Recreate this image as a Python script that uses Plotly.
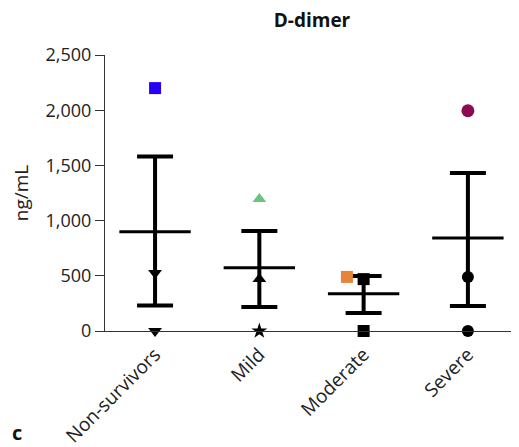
import plotly.graph_objects as go

categories = ["Non-survivors", "Mild", "Moderate", "Severe"]
means = [900, 573, 338, 843]
upper = [1580, 906, 498, 1432]
lower = [230, 217, 163, 226]

# individual points per group
pts_high = [2200, 1195, 490, 1995]     # coloured highlighted points
pts_mid = [525, 470, 470, 489]
pts_zero = [0, 0, 0, 0]

# styling
high_colors = ["#2a00f5", "#6cc47c", "#e8843a", "#8c0a52"]
high_symbols = ["square", "triangle-up", "square", "circle"]
high_sizes = [12, 12, 12, 13]
black_symbols = ["triangle-down", "triangle-up", "square", "circle"]
zero_symbols = ["triangle-down", "star", "square", "circle"]
high_offset = [0, 0, -0.16, 0]

xi = list(range(len(categories)))

# page body has an 8px default margin; figure is sized to compensate
W, H = 511, 439
L, R, T, B = 97, 0, 47, 116
pw, ph = W - L - R, H - T - B

fig = go.Figure()

fig.add_trace(go.Scatter(
    x=xi, y=means, mode="markers",
    marker=dict(symbol="line-ew", size=51, color="black",
                line=dict(width=3, color="black")),
    error_y=dict(type="data", symmetric=False,
                 array=[u - m for u, m in zip(upper, means)],
                 arrayminus=[m - l for m, l in zip(means, lower)],
                 color="black", thickness=4, width=18),
    cliponaxis=False, showlegend=False, hoverinfo="skip"))

fig.add_trace(go.Scatter(
    x=[i + o for i, o in zip(xi, high_offset)], y=pts_high, mode="markers",
    marker=dict(symbol=high_symbols, size=high_sizes, color=high_colors,
                opacity=1, line=dict(width=0)),
    opacity=1, cliponaxis=False, showlegend=False))

fig.add_trace(go.Scatter(
    x=xi, y=pts_mid, mode="markers",
    marker=dict(symbol=black_symbols, size=12, color="black", opacity=1),
    cliponaxis=False, showlegend=False))

fig.add_trace(go.Scatter(
    x=xi, y=pts_zero, mode="markers",
    marker=dict(symbol=zero_symbols, size=12, color="black", opacity=1),
    cliponaxis=False, showlegend=False))

fig.update_layout(
    width=W, height=H,
    margin=dict(l=L, r=R, t=T, b=B),
    paper_bgcolor="white", plot_bgcolor="white",
    font=dict(family="Open Sans", color="#222"),
    title=dict(text="<b>D-dimer</b>", x=304 / W, xanchor="center",
               y=1 - 12 / H, yanchor="middle", font=dict(size=19, color="#111")),
    xaxis=dict(range=[-0.48, 3.49], tickvals=xi, ticktext=categories,
               tickangle=-45, showgrid=False, zeroline=False,
               showline=True, linecolor="#333", linewidth=1,
               ticks="outside", ticklen=4, tickcolor="rgba(0,0,0,0)",
               tickfont=dict(size=19, color="#222")),
    yaxis=dict(range=[0, 2500], tickvals=[0, 500, 1000, 1500, 2000, 2500],
               tickformat=",", showgrid=False, zeroline=False,
               showline=True, linecolor="#333", linewidth=1,
               ticks="outside", ticklen=9, tickcolor="#333",
               tickfont=dict(size=18, color="#222"),
               title=dict(text="ng/mL", font=dict(size=19, color="#222"), standoff=14)),
    annotations=[dict(text="<b>c</b>", x=(9 - L) / pw, y=(T + ph - 425) / ph,
                      xref="paper", yref="paper", xanchor="center", yanchor="middle",
                      showarrow=False, font=dict(size=20, color="#111"))],
)

fig.write_html("out.html")
